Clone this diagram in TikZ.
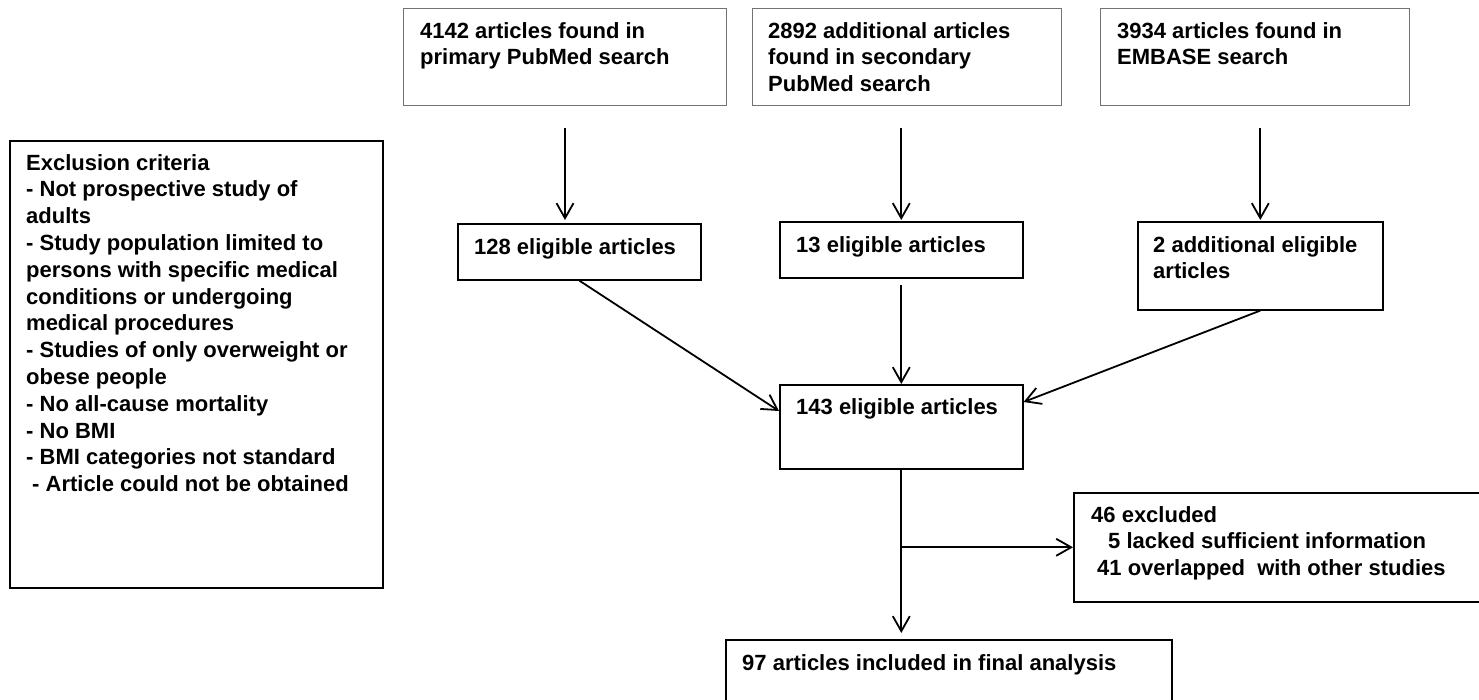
\documentclass[tikz,border=0pt]{standalone}
\usepackage{fontspec}
\setmainfont{Liberation Sans}
\usetikzlibrary{arrows.meta}
\begin{document}
\begin{tikzpicture}[x=1pt, y=-1pt,
  box/.style={draw=black, line width=1.6pt, anchor=north west, inner sep=0pt},
  srcbox/.style={box, draw=black!55, line width=1pt},
  lbl/.style={anchor=north west, inner sep=0pt, align=left, font=\bfseries\fontsize{22}{26.8}\selectfont},
  arr/.style={line width=1.8pt, -{Straight Barb[length=15pt, width=17pt]}}]

\useasboundingbox (0,0) rectangle (1479,700);

% Define the boxes of the flow chart
\node[srcbox, minimum width=323pt, minimum height=97pt] (pm1) at (403,8) {};
\node[srcbox, minimum width=309pt, minimum height=97pt] (pm2) at (752,8) {};
\node[srcbox, minimum width=309pt, minimum height=97pt] (emb) at (1100,8) {};

\node[box, minimum width=373pt, minimum height=447pt] (crit) at (9,140) {};

\node[box, minimum width=243pt, minimum height=56pt] (e128) at (457,223) {};
\node[box, minimum width=243pt, minimum height=56pt] (e13) at (779,221) {};
\node[box, minimum width=245pt, minimum height=88pt] (add2) at (1137,221) {};

\node[box, minimum width=243pt, minimum height=84pt] (e143) at (779,384) {};
\node[box, minimum width=410pt, minimum height=109pt] (excl) at (1073,492) {};
\node[box, minimum width=446pt, minimum height=80pt] (fin) at (725,639) {};

% Place the texts in the boxes
\node[lbl] at ([shift={(17pt,-14pt)}]pm1.north west) {4142 articles found in\\primary PubMed search};
\node[lbl] at ([shift={(16pt,-14pt)}]pm2.north west) {2892 additional articles\\found in secondary\\PubMed search};
\node[lbl] at ([shift={(17pt,-14pt)}]emb.north west) {3934 articles found in\\EMBASE search};

\node[lbl] at ([shift={(17pt,-14pt)}]crit.north west) {Exclusion criteria\\- Not prospective study of\\adults\\- Study population limited to\\persons with specific medical\\conditions or undergoing\\medical procedures\\- Studies of only overweight or\\obese people\\- No all-cause mortality\\- No BMI\\- BMI categories not standard\\\hspace*{6pt}- Article could not be obtained};

\node[lbl] at ([shift={(17pt,-15pt)}]e128.north west) {128 eligible articles};
\node[lbl] at ([shift={(17pt,-15pt)}]e13.north west) {13 eligible articles};
\node[lbl] at ([shift={(16pt,-15pt)}]add2.north west) {2 additional eligible\\articles};

\node[lbl] at ([shift={(17pt,-14pt)}]e143.north west) {143 eligible articles};
\node[lbl] at ([shift={(18pt,-14pt)}]excl.north west) {46 excluded\\\hspace*{17pt}5 lacked sufficient information\\\hspace*{6pt}41 overlapped\ \ with other studies};
\node[lbl] at ([shift={(17pt,-15pt)}]fin.north west) {97 articles included in final analysis};

% Draw the arrows
\draw[arr, shorten <=22pt, shorten >=3pt] (pm1.south) -- (pm1.south |- e128.north);
\draw[arr, shorten <=22pt, shorten >=1pt] (e13.north |- pm2.south) -- (e13.north);
\draw[arr, shorten <=22pt, shorten >=1pt] (add2.north |- emb.south) -- (add2.north);

\draw[arr] (e128.south) -- ([yshift=-27pt]e143.north west);
\draw[arr, shorten <=6pt] (e13.south) -- (e13.south |- e143.north);
\draw[arr] (add2.south) -- ([yshift=-18pt]e143.north east);

\draw[arr, shorten >=6pt] (e143.south) -- (e143.south |- fin.north);
\draw[arr] (e143.south |- excl.west) -- (excl.west);

\end{tikzpicture}
\end{document}
